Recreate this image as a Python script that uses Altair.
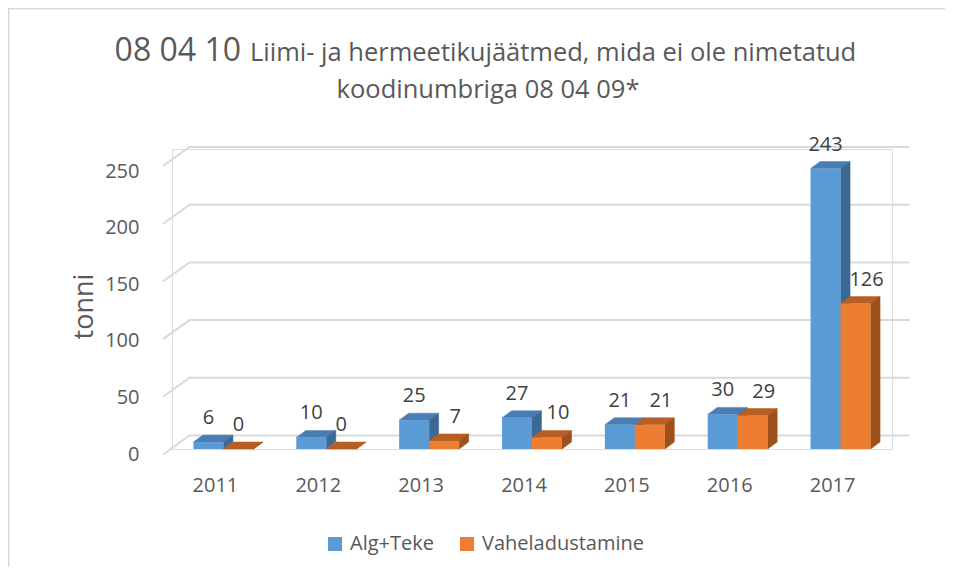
import altair as alt
import pandas as pd

# ---- data ----
years = ["2011", "2012", "2013", "2014", "2015", "2016", "2017"]
series_names = ["Alg+Teke", "Vaheladustamine"]
alg_teke = [6, 10, 25, 27, 21, 30, 243]
vaheladustamine = [0, 0, 7, 10, 21, 29, 126]
y_ticks = [0, 50, 100, 150, 200, 250]

# ---- style / geometry ----
W, H = 720, 300
YMAX = 260
PX_X = W / len(years)          # px per category unit
PX_Y = H / YMAX                # px per value unit
BAR_W = 30 / PX_X
DEPTH_X = 9.5 / PX_X
DEPTH_Y = 7 / PX_Y
WALL_X = 17.5 / PX_X
WALL_Y = 13.5 / PX_Y
EDGE_X = -9 / PX_X
EDGE_Y = -5.5 / PX_Y
LABEL_SHIFT = 11 / PX_X        # rear-series labels sit a little to the right

front_col = {"Alg+Teke": "#5b9bd5", "Vaheladustamine": "#ed7d31"}
top_col = {"Alg+Teke": "#4a7db3", "Vaheladustamine": "#b95e22"}
side_col = {"Alg+Teke": "#3c6894", "Vaheladustamine": "#9e501c"}
text_col = "#595959"
FONT = "Open Sans"

bars, sides, tops = [], [], []
for si, (sname, vals) in enumerate(zip(series_names, [alg_teke, vaheladustamine])):
    for i, (yr, v) in enumerate(zip(years, vals)):
        xl = i + 0.5 - BAR_W if si == 0 else i + 0.5
        xr = xl + BAR_W
        bid = f"b{si}_{i}"
        lx = (xl + xr) / 2 + (LABEL_SHIFT if (si == 1 and v > 0) else 0)
        bars.append(dict(series=sname, year=yr, value=v, xl=xl, xr=xr, lx=lx, bottom=0))
        sides.append(dict(series=sname, bar=bid, px=xr, hi=v, lo=0))
        sides.append(dict(series=sname, bar=bid, px=xr + DEPTH_X, hi=v + DEPTH_Y, lo=DEPTH_Y))
        tops.append(dict(series=sname, bar=bid, px=xl, hi=v, lo=v))
        tops.append(dict(series=sname, bar=bid, px=xl + DEPTH_X, hi=v + DEPTH_Y, lo=v))
        tops.append(dict(series=sname, bar=bid, px=xr, hi=v + DEPTH_Y, lo=v))
        tops.append(dict(series=sname, bar=bid, px=xr + DEPTH_X, hi=v + DEPTH_Y, lo=v + DEPTH_Y))
bars = pd.DataFrame(bars)
sides = pd.DataFrame(sides)
tops = pd.DataFrame(tops)

grid = []
for t in y_ticks:
    grid.append(dict(g=t, gx=EDGE_X, gy=t + EDGE_Y, o=0))
    grid.append(dict(g=t, gx=WALL_X, gy=t + WALL_Y, o=1))
    grid.append(dict(g=t, gx=len(years) + WALL_X, gy=t + WALL_Y, o=2))
grid = pd.DataFrame(grid)

year_df = pd.DataFrame(dict(year=years, xc=[i + 0.5 for i in range(len(years))]))

xscale = alt.Scale(domain=[0, len(years)], nice=False, zero=False)
yscale = alt.Scale(domain=[0, YMAX], nice=False, zero=False)
yaxis = alt.Axis(values=y_ticks, grid=False, ticks=False, domain=False,
                 labelFontSize=20, labelColor=text_col, labelPadding=33,
                 labelOffset={"expr": "5 + datum.value * 0.022"},
                 title="tonni", titleFontSize=27, titleColor=text_col, titleFontWeight="normal",
                 titleX=-88, titleY=157, titleAngle=270, titleAlign="center", titleBaseline="middle")


def X(f):
    return alt.X(f, type="quantitative", scale=xscale, axis=None)


def Y(f):
    return alt.Y(f, type="quantitative", scale=yscale, axis=yaxis)


color_enc = alt.Color("series:N", scale=alt.Scale(domain=series_names,
                                                   range=[front_col[s] for s in series_names]),
                      legend=alt.Legend(orient="none", legendX=153, legendY=385, direction="horizontal",
                                        title=None, labelFontSize=20, labelColor=text_col, labelLimit=400,
                                        symbolType="square", symbolSize=196, symbolStrokeWidth=0,
                                        labelOffset=5, columnPadding=23, padding=0))

gridlines = alt.Chart(grid).mark_line(color="#d9d9d9", strokeWidth=2, clip=False).encode(
    x=X("gx"), y=Y("gy"), detail="g:N", order="o:Q")

layers = [gridlines]
for s in series_names:
    layers.append(alt.Chart(tops[tops.series == s]).mark_area(
        fill=top_col[s], stroke=top_col[s], strokeWidth=0.5, clip=False).encode(
        x=X("px"), y=Y("hi"), y2=alt.Y2("lo"), detail="bar:N"))
    layers.append(alt.Chart(sides[sides.series == s]).mark_area(
        fill=side_col[s], stroke=side_col[s], strokeWidth=0.5, clip=False).encode(
        x=X("px"), y=Y("hi"), y2=alt.Y2("lo"), detail="bar:N"))
    layers.append(alt.Chart(bars[bars.series == s]).mark_rect(clip=False).encode(
        x=X("xl"), x2="xr", y=Y("value"), y2="bottom", color=color_enc))

labels = alt.Chart(bars).mark_text(font=FONT, fontSize=20, color="#404040", baseline="alphabetic",
                                   dy=-18, clip=False).encode(
    x=X("lx"), y=Y("value"), text="value:Q")

year_labels = alt.Chart(year_df).mark_text(font=FONT, fontSize=20, color=text_col,
                                           baseline="alphabetic", dx=-8).encode(
    x=X("xc"), y=alt.value(343), text="year:N")

one = alt.Data(values=[{}])
title1 = alt.Chart(one).mark_text(font=FONT, fontSize=32, color=text_col, align="right",
                                  baseline="alphabetic").encode(
    x=alt.value(69), y=alt.value(-88), text=alt.value("08 04 10"))
title2 = alt.Chart(one).mark_text(font=FONT, fontSize=25.5, color=text_col, align="left",
                                  baseline="alphabetic").encode(
    x=alt.value(78), y=alt.value(-88),
    text=alt.value("Liimi- ja hermeetikujäätmed, mida ei ole nimetatud"))
title3 = alt.Chart(one).mark_text(font=FONT, fontSize=25.5, color=text_col, align="center",
                                  baseline="alphabetic").encode(
    x=alt.value(316), y=alt.value(-51), text=alt.value("koodinumbriga 08 04 09*"))
frame = alt.Chart(one).mark_rect(fillOpacity=0, stroke="#d9d9d9", strokeWidth=1.5, clip=False).encode(
    x=alt.value(-163.3), x2=alt.value(800), y=alt.value(-140.3), y2=alt.value(440))

chart = alt.layer(frame, *layers, labels, year_labels, title1, title2, title3).properties(
    width=W, height=H,
    autosize=alt.AutoSizeParams(type="none"),
    padding={"left": 164, "top": 141, "right": 53, "bottom": 118},
).configure_view(stroke=None).configure(font=FONT, background="white")

chart.save("out.html", embed_options={"renderer": "svg", "actions": False})
